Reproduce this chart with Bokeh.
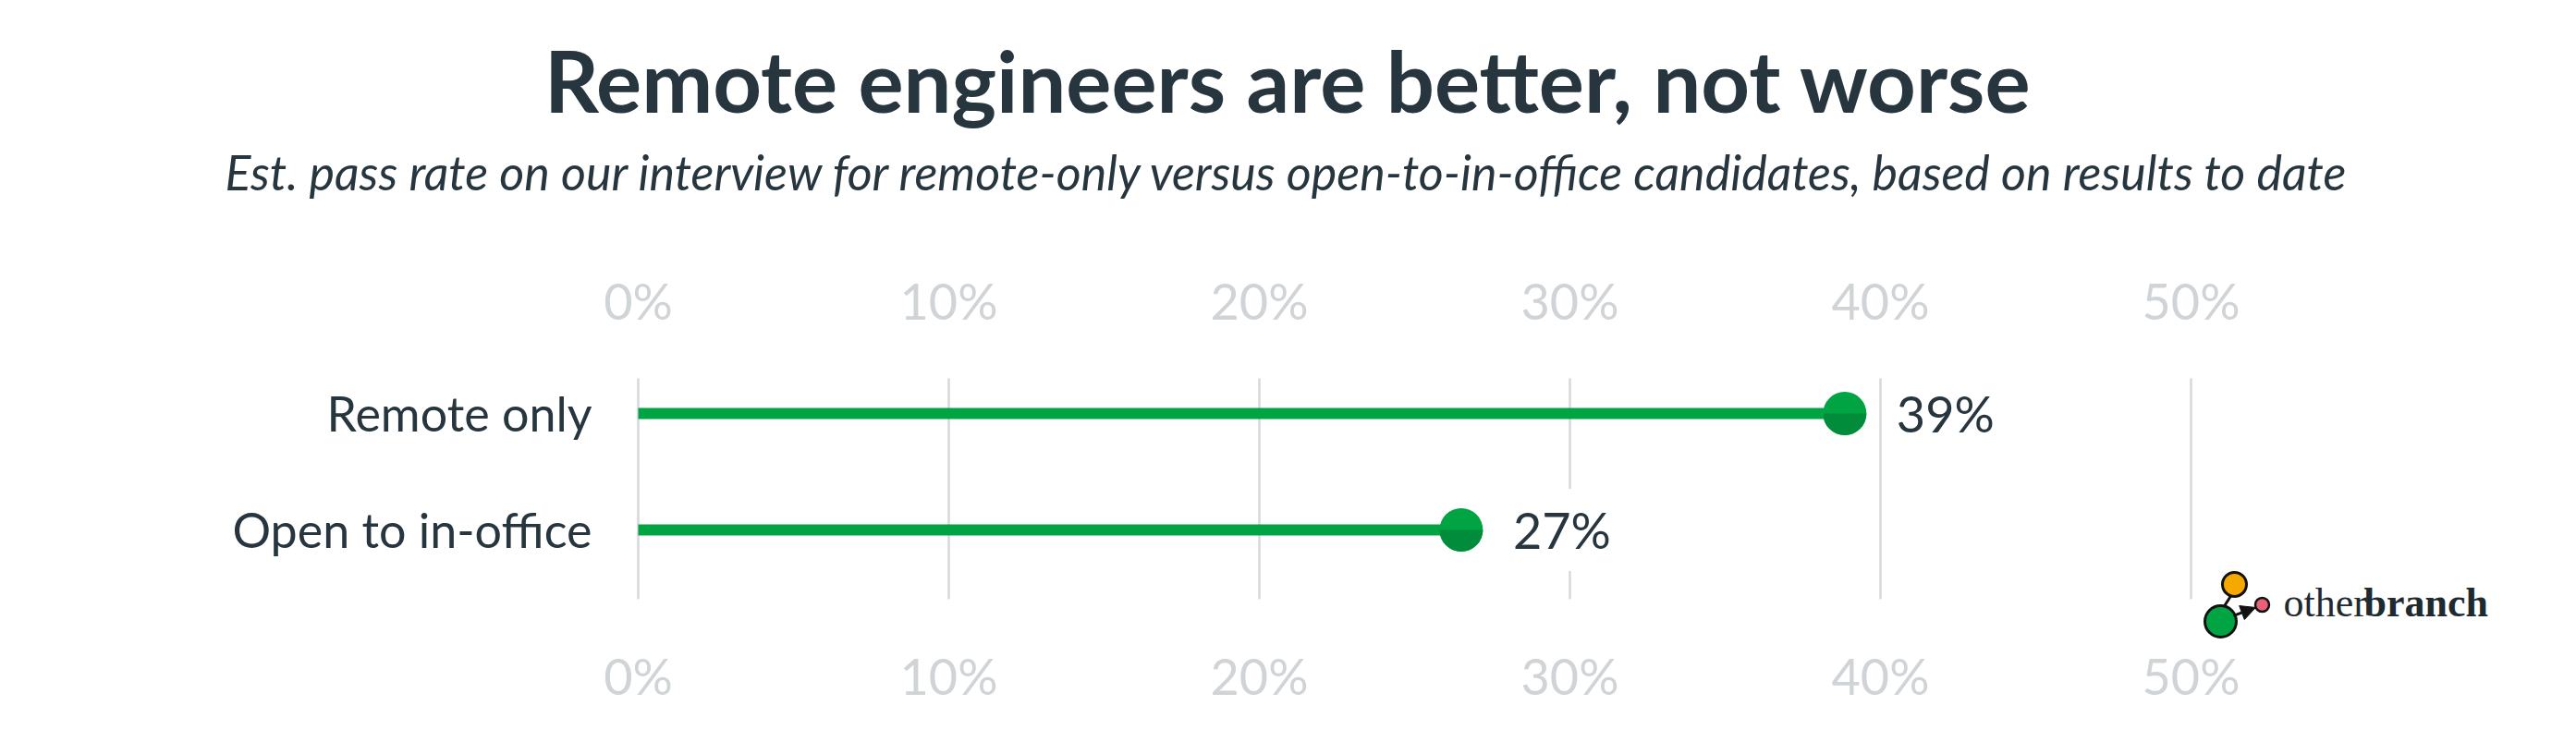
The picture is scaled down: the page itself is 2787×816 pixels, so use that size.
from bokeh.plotting import figure
from bokeh.models import Range1d, Label, ColumnDataSource, Arrow, NormalHead
from bokeh.core.properties import value
from bokeh.embed import file_html
from bokeh.resources import INLINE

# ---------------- data ----------------
categories = ["Remote only", "Open to in-office"]
pass_rates = [38.85, 26.5]
value_labels = ["39%", "27%"]
tick_values = [0, 10, 20, 30, 40, 50]
tick_labels = ["0%", "10%", "20%", "30%", "40%", "50%"]

title_text = "Remote engineers are better, not worse"
subtitle_text = ("Est. pass rate on our interview for remote-only versus "
                 "open-to-in-office candidates, based on results to date")

# ---------------- style ----------------
TEXT = "#27363e"
TICK = "#d0d4d7"
GRID = "#d5d9dc"
GREEN = "#00a443"
GREEN_DARK = "#00883a"
FONT = "Lato"

W, H = 2771, 800
X0, X1 = -20.536, 61.935
Y0, Y1 = -1.802, 4.548
p = figure(width=W, height=H, output_backend="svg", toolbar_location=None,
           x_range=Range1d(X0, X1), y_range=Range1d(Y0, Y1),
           min_border=0, min_border_left=0, min_border_right=0,
           min_border_top=0, min_border_bottom=0)
p.axis.visible = False
p.grid.visible = False
p.outline_line_color = None
p.background_fill_color = "white"
p.border_fill_color = "white"

n = len(categories)
rows = [n - 1 - i for i in range(n)]  # first category on top

# gridlines
GRID_TOP, GRID_BOTTOM = 1.302, -0.595
p.segment(x0=tick_values, x1=tick_values, y0=[GRID_TOP] * len(tick_values),
          y1=[GRID_BOTTOM] * len(tick_values), line_color=GRID, line_width=2.5)

# tick labels top & bottom
TOP_MID, BOTTOM_MID = 1.968, -1.258
for ym in (TOP_MID, BOTTOM_MID):
    p.text(x=tick_values, y=[ym] * len(tick_values), text=tick_labels,
           text_font=value(FONT), text_font_size="54px", text_color=TICK,
           text_align="center", text_baseline="middle")

src = ColumnDataSource(dict(cat=categories, val=pass_rates, lab=value_labels,
                            row=rows, zero=[0] * n))

# stems
p.segment(x0="zero", x1="val", y0="row", y1="row", source=src,
          line_color=GREEN, line_width=12, line_cap="butt")

# value labels (white box hides gridlines)
p.text(x="val", y="row", text="lab", source=src, x_offset=44,
       text_font=value(FONT), text_font_size="54px", text_color=TEXT,
       text_align="left", text_baseline="middle",
       background_fill_color="white", padding=12)

# dots
p.scatter(x="val", y="row", source=src, size=47, fill_color=GREEN,
          line_color=None)
p.wedge(x="val", y="row", source=src, radius=23.5, radius_units="screen",
        start_angle=3.14159265, end_angle=6.28318531,
        fill_color=GREEN_DARK, line_color=None, fill_alpha=0.85)

# category labels
p.text(x="zero", y="row", text="cat", source=src, x_offset=-50,
       text_font=value(FONT), text_font_size="52px", text_color=TEXT,
       text_align="right", text_baseline="middle")

# title / subtitle
XC = (X0 + X1) / 2 + 0.23
p.add_layout(Label(x=XC, y=3.865, text=title_text,
                   text_align="center", text_baseline="middle",
                   text_font=FONT, text_font_style="bold",
                   text_font_size="92px", text_color=TEXT))
p.add_layout(Label(x=XC, y=3.075, text=subtitle_text,
                   text_align="center", text_baseline="middle",
                   text_font=FONT, text_font_style="italic",
                   text_font_size="52px", text_color=TEXT))

# ---------------- logo (decoration) ----------------
def sx(s):
    return (s - 690) / 33.6


def sy(s):
    return (573 - s) / 126


p.segment(x0=[sx(2414)], y0=[sy(643)], x1=[sx(2405)], y1=[sy(657)],
          line_color="#111", line_width=3)
p.add_layout(Arrow(end=NormalHead(size=16, fill_color="#111", line_color="#111"),
                   x_start=sx(2416), y_start=sy(666), x_end=sx(2440),
                   y_end=sy(657), line_color="#111", line_width=3))
p.scatter(x=[sx(2417)], y=[sy(632)], size=26, fill_color="#f5a800",
          line_color="#111", line_width=3)
p.scatter(x=[sx(2402)], y=[sy(672)], size=34, fill_color=GREEN,
          line_color="#111", line_width=3)
p.scatter(x=[sx(2447)], y=[sy(654)], size=15, fill_color="#ea6079",
          line_color="#111", line_width=2.5)
p.add_layout(Label(x=sx(2470), y=sy(652), text="other",
                   text_align="left", text_baseline="middle",
                   text_font="Liberation Serif", text_font_size="44px",
                   text_color="#1d2a30"))
p.add_layout(Label(x=sx(2557), y=sy(652), text="branch",
                   text_align="left", text_baseline="middle",
                   text_font="Liberation Serif", text_font_style="bold",
                   text_font_size="44px", text_color="#1d2a30"))

open("out.html", "w").write(file_html(p, INLINE))
